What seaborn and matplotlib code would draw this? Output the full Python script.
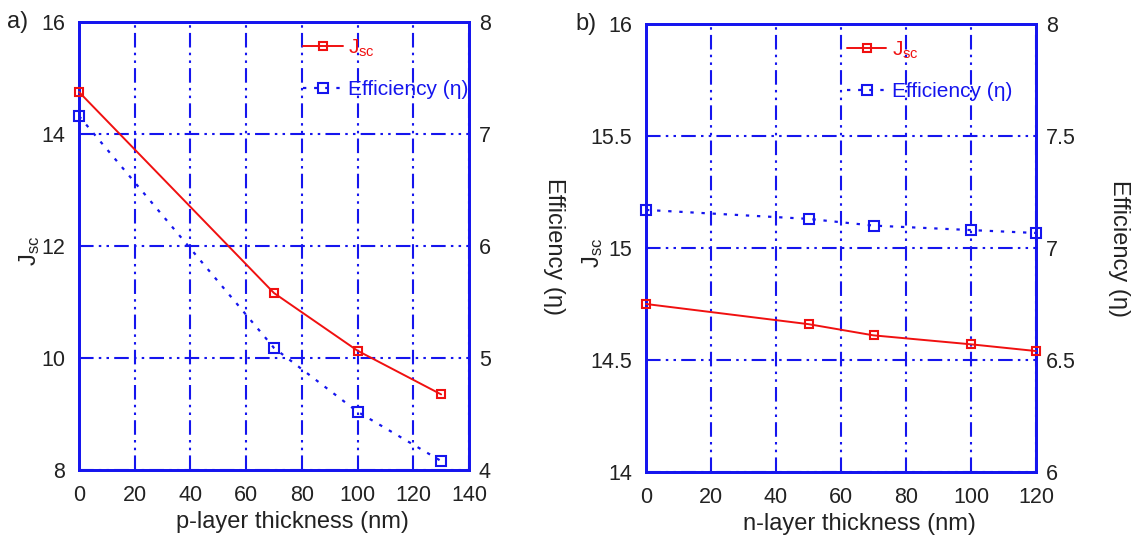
import matplotlib
matplotlib.use("Agg")
import matplotlib.pyplot as plt
from matplotlib.ticker import FuncFormatter, MultipleLocator
import seaborn as sns
import pandas as pd

# Panel a: p-layer thickness sweep
p_thickness = [0, 70, 100, 130]
p_jsc = [14.75, 11.16, 10.13, 9.35]
p_eff = [7.16, 5.09, 4.52, 4.08]

# Panel b: n-layer thickness sweep
n_thickness = [0, 50, 70, 100, 120]
n_jsc = [14.75, 14.66, 14.61, 14.57, 14.54]
n_eff = [7.17, 7.13, 7.10, 7.08, 7.067]

panel_tags = ["a)", "b)"]
x_labels = ["p-layer thickness (nm)", "n-layer thickness (nm)"]
jsc_label = r"J$_{\mathrm{sc}}$"
eff_label = "Efficiency (\u03b7)"

sns.set_theme(style="white")
plt.rcParams["font.family"] = ["Liberation Sans", "DejaVu Sans"]
plt.rcParams["mathtext.fontset"] = "custom"
plt.rcParams["mathtext.rm"] = "Liberation Sans"
plt.rcParams["mathtext.it"] = "Liberation Sans"

RED = "#f01010"
BLUE = "#1515ee"
TXT = "#222222"
FS_TICK = 15.5
FS_LABEL = 17
FS_LEG = 15
grid_dash = (0, (7, 2.5, 1.2, 2.5, 1.2, 2.5))

fig = plt.figure(figsize=(11.38, 5.39), dpi=100)
boxes = [
    [79 / 1138, 1 - 470 / 539, 390 / 1138, 448 / 539],
    [646 / 1138, 1 - 472 / 539, 390 / 1138, 448 / 539],
]
fmt = FuncFormatter(lambda v, pos: f"{v:g}")

panels = [
    (p_thickness, p_jsc, p_eff, (0, 140), (8, 16), (4, 8), 2, 1),
    (n_thickness, n_jsc, n_eff, (0, 120), (14, 16), (6, 8), 0.5, 0.5),
]
jsc_label_x = [-0.095, -0.105]
eff_label_x = [1.245, 1.24]
tag_x = [-0.185, -0.18]
legend_x = [0.575, 0.515]

for i, (x, jsc, eff, xlim, jlim, elim, jstep, estep) in enumerate(panels):
    ax = fig.add_axes(boxes[i])
    ax2 = ax.twinx()
    df = pd.DataFrame({"x": x, "jsc": jsc, "eff": eff})

    sns.lineplot(data=df, x="x", y="jsc", ax=ax, color=RED, lw=1.4,
                 marker="s", markersize=6, markerfacecolor="none",
                 markeredgecolor=RED, markeredgewidth=1.5, label=jsc_label,
                 legend=False, zorder=5, clip_on=False)
    sns.lineplot(data=df, x="x", y="eff", ax=ax2, color=BLUE, lw=1.6,
                 linestyle=(0, (1.5, 3.5)), marker="s", markersize=7,
                 markerfacecolor="none", markeredgecolor=BLUE,
                 markeredgewidth=1.5, label=eff_label, legend=False,
                 zorder=5, clip_on=False)

    ax.set_xlim(*xlim)
    ax.set_ylim(*jlim)
    ax2.set_ylim(*elim)
    ax.xaxis.set_major_locator(MultipleLocator(20))
    ax.yaxis.set_major_locator(MultipleLocator(jstep))
    ax2.yaxis.set_major_locator(MultipleLocator(estep))
    ax.yaxis.set_major_formatter(fmt)
    ax2.yaxis.set_major_formatter(fmt)

    ax.grid(True, color=BLUE, lw=1.5, linestyle=grid_dash)
    ax.set_axisbelow(True)
    ax2.grid(False)
    ax.set_zorder(ax2.get_zorder() + 1)
    ax.patch.set_visible(False)

    for a in (ax, ax2):
        for s in a.spines.values():
            s.set_color(BLUE)
            s.set_linewidth(2)
            s.set_visible(True)
    ax.tick_params(axis="both", length=0, labelsize=FS_TICK, labelcolor=TXT)
    ax.tick_params(axis="x", pad=11)
    ax.tick_params(axis="y", pad=10)
    ax2.tick_params(axis="y", length=0, labelsize=FS_TICK, labelcolor=TXT,
                    pad=7)

    ax.set_xlabel(x_labels[i], fontsize=FS_LABEL, color=TXT)
    ax.xaxis.set_label_coords(0.547, -0.092)
    ax.xaxis.label.set_verticalalignment("top")
    ax.set_ylabel(jsc_label, fontsize=FS_LABEL, color=TXT)
    ax.yaxis.set_label_coords(jsc_label_x[i], 0.49)
    ax2.set_ylabel(eff_label, fontsize=FS_LABEL, color=TXT, rotation=270)
    ax2.yaxis.set_label_coords(eff_label_x[i], 0.5)

    ax.text(tag_x[i], 1.0, panel_tags[i], transform=ax.transAxes,
            fontsize=FS_LABEL, color=TXT, ha="left", va="center")

    h1, l1 = ax.get_legend_handles_labels()
    h2, l2 = ax2.get_legend_handles_labels()
    leg = ax.legend(h1 + h2, l1 + l2, loc="upper left",
                    bbox_to_anchor=(legend_x[i], 0.965),
                    frameon=False, fontsize=FS_LEG, handlelength=1.9,
                    handletextpad=0.25, labelspacing=1.0, borderpad=0,
                    borderaxespad=0)
    for t, c in zip(leg.get_texts(), [RED, BLUE]):
        t.set_color(c)

fig.savefig("out.png", dpi=100)
